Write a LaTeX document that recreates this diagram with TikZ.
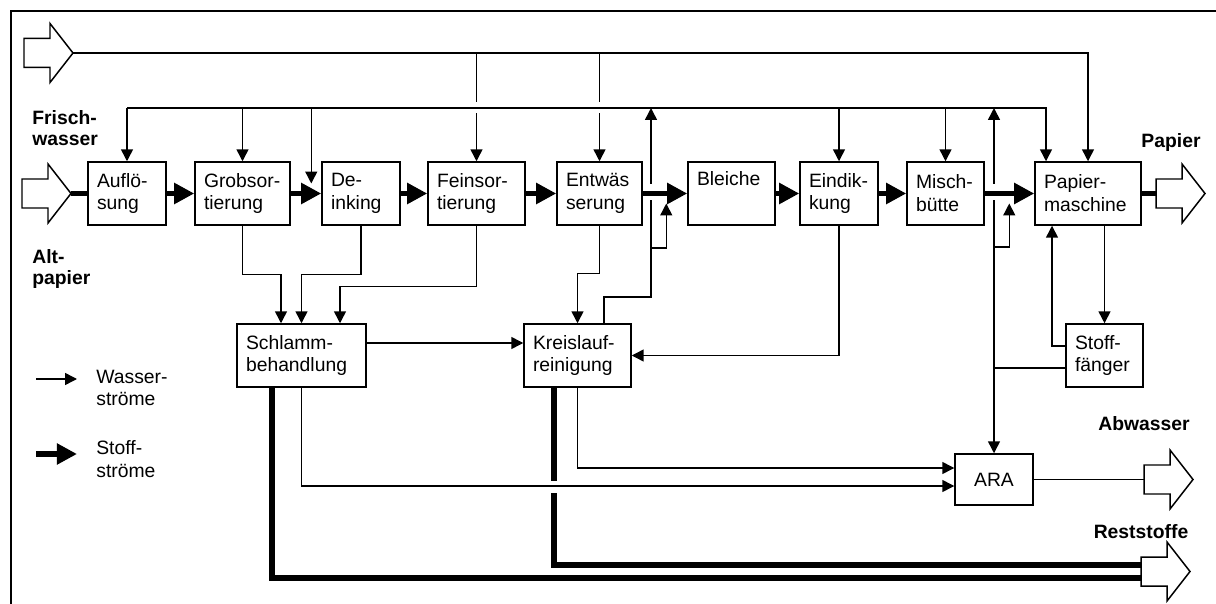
\documentclass[tikz,border=0pt]{standalone}
\usepackage{fontspec}
\setmainfont{Liberation Sans}
\usetikzlibrary{arrows.meta,calc}

\begin{document}
\begin{tikzpicture}[x=0.02cm, y=-0.02cm,
    proc/.style={draw, line width=.85pt, minimum height=1.26cm, inner xsep=0.18cm,
                 align=left, font=\fontsize{11}{13}\selectfont, text width=#1},
    pipe/.style={line width=.85pt},
    water/.style={pipe, -{Triangle[length=6.8pt,width=6.8pt]}},
    stoffline/.style={line width=3.2pt},
    stoff/.style={stoffline, -{Triangle[length=11.5pt,width=11.5pt]}},
    lbl/.style={font=\fontsize{11}{11.5}\selectfont\bfseries, align=left, inner sep=0pt},
    legtext/.style={font=\fontsize{11}{13}\selectfont, align=left, inner sep=0pt, anchor=west},
    bigarrow/.pic={
      \draw[line width=.85pt, fill=white] (-49,-14.5) -- (-23,-14.5) -- (-23,-29.5) -- (0,0)
        -- (-23,29.5) -- (-23,14.5) -- (-49,14.5) -- cycle;
      \coordinate (-tip) at (0,0);
      \coordinate (-tail) at (-49,0);
    }]
  \useasboundingbox (0,0) rectangle (1216,604);
  \draw[line width=1.1pt] (11,604) -- (11,11) -- (1216,11);

  \node[proc=1.2cm]  (aufl)  at (127,193.5)  {Auflö-\\sung};
  \node[proc=1.54cm] (grob)  at (242.5,193.5) {Grobsor-\\tierung};
  \node[proc=1.2cm]  (dein)  at (361,193.5)  {De-\\inking};
  \node[proc=1.58cm] (fein)  at (476.5,193.5) {Feinsor-\\tierung};
  \node[proc=1.34cm] (entw)  at (599.5,193.5) {Entwäs\\serung};
  \node[proc=1.38cm] (blei)  at (731.5,193.5) {Bleiche\\\strut};
  \node[proc=1.2cm]  (eind)  at (839,193.5)  {Eindik-\\kung};
  \node[proc=1.18cm] (misch) at (945.5,193.5) {Misch-\\bütte};
  \node[proc=1.76cm] (pm)    at (1088,193.5) {Papier-\\maschine};
  \node[proc=2.22cm] (schl)  at (301.5,355.5) {Schlamm-\\behandlung};
  \node[proc=1.78cm] (kreis) at (577.5,355.5) {Kreislauf-\\reinigung};
  \node[proc=1.18cm] (stoff) at (1104.5,355.5) {Stoff-\\fänger};
  \node[proc=1.2cm, align=center, minimum height=1.02cm] (ara) at (994,479.5) {ARA};

  \pic (fw)   at (73,53)      {bigarrow};
  \pic (alt)  at (71,193.5)   {bigarrow};
  \pic (pap)  at (1205,193.5) {bigarrow};
  \pic (abw)  at (1193,479.5) {bigarrow};
  \pic (rest) at (1190,571.5) {bigarrow};

  \node[lbl, anchor=west] (lfw)  at (32,128)   {Frisch-\\wasser};
  \node[lbl, anchor=west] (lalt) at (32,269)   {Alt-\\papier};
  \node[lbl] (lpap) at (1171,143)  {Papier};
  \node[lbl] (labw) at (1144,424)  {Abwasser};
  \node[lbl] (lrst) at (1141,532)  {Reststoffe};

  \node[legtext] (lgw) at (96,388)   {Wasser-\\ströme};
  \node[legtext] (lgs) at (96,459.5) {Stoff-\\ströme};
  \draw[water] ($(lgw.west)+(-60,-9)$) -- ++(41,0);
  \draw[stoff] ($(lgs.west)+(-60,-5.5)$) -- ++(41,0);

  \coordinate (ring)  at (0,108);
  \coordinate (dinp)  at ($(dein.west)+(-10,-10)$);
  \coordinate (kup)   at (651,297);
  \coordinate (ktap)  at (651,248);
  \coordinate (aup)   at (994,368);
  \coordinate (atap)  at (994,247);

  \draw[water] (fw-tip) -| (pm.north);
  \foreach \n in {fein,entw}
    \draw[water] (\n.north |- fw-tip) -- (\n.north);
  \foreach \n in {fein,entw}
    \fill[white] ($(\n.north |- ring)+(-3,-6)$) rectangle ($(\n.north |- ring)+(3,5.5)$);
  \draw[water] (aufl.north |- ring) -| ($(pm.north)+(-42,0)$);
  \foreach \n in {aufl,grob,eind,misch}
    \draw[water] (\n.north |- ring) -- (\n.north);
  \draw[water] (dinp |- ring) -- (dinp);

  \draw[water] (grob.south) -- ++(0,49) -| ($(schl.north)+(-20.5,0)$);
  \draw[water] (dein.south) -- ++(0,49) -| (schl.north);
  \draw[water] (fein.south) -- ++(0,61) -| ($(schl.north)+(38.5,0)$);
  \draw[water] ($(schl.east)+(0,-12.5)$) -- ($(kreis.west)+(0,-12.5)$);
  \draw[water] (entw.south) -- ++(0,48) -| (kreis.north);
  \draw[water] (eind.south) |- (kreis.east);

  \draw[water] ($(kreis.north)+(26.5,0)$) |- (kup) -- (kup |- ring);
  \draw[water] (ktap) -| ($(blei.west)+(-21,10)$);
  \draw[pipe] (aup -| stoff.west) -- (aup);
  \draw[water] (aup) -- (ara.north);
  \draw[water] (aup) -- (aup |- ring);
  \draw[water] (atap) -| ($(pm.west)+(-25,10)$);
  \draw[water] ($(stoff.west)+(0,-9.5)$) -| ($(pm.south)+(-36,0)$);
  \draw[water] (pm.south -| stoff.north) -- (stoff.north);

  \foreach \c in {kup,aup}
    \fill[white] ($(\c |- pm.west)+(-3,-9)$) rectangle ($(\c |- pm.west)+(3,7)$);

  \draw[stoffline] ($(schl.south)+(-29.5,0)$) |- ($(rest-tail)+(0,6.5)$);
  \draw[stoffline] ($(kreis.south)+(-23.5,0)$) |- ($(rest-tail)+(0,-6.5)$);
  \fill[white] ($(kreis.south)+(-27,93)$) rectangle ($(kreis.south)+(-20,105)$);
  \draw[water] (kreis.south) |- ($(ara.west)+(0,-11.5)$);
  \draw[water] (schl.south) |- ($(ara.west)+(0,6.5)$);
  \draw[pipe] (ara.east) -- (abw-tail);

  \draw[stoffline] (alt-tip) -- (aufl.west);
  \foreach \a/\b in {aufl/grob,grob/dein,dein/fein,fein/entw,entw/blei,blei/eind,eind/misch,misch/pm}
    \draw[stoff] (\a.east) -- (\b.west);
  \draw[stoffline] (pm.east) -- (pap-tail);
\end{tikzpicture}
\end{document}
